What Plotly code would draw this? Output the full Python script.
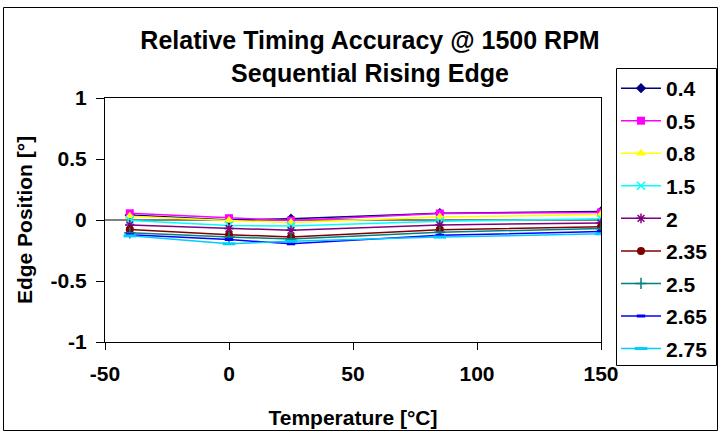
import plotly.graph_objects as go

temps = [-40, 0, 25, 85, 150]
series_names = ["0.4", "0.5", "0.8", "1.5", "2", "2.35", "2.5", "2.65", "2.75"]
v_04 = [0.04, 0.0, 0.01, 0.055, 0.07]
v_05 = [0.055, 0.015, -0.005, 0.053, 0.062]
v_08 = [0.03, -0.005, -0.02, 0.025, 0.045]
v_15 = [-0.005, -0.045, -0.05, -0.01, 0.01]
v_2 = [-0.04, -0.07, -0.085, -0.04, -0.025]
v_235 = [-0.078, -0.12, -0.14, -0.08, -0.055]
v_25 = [-0.105, -0.14, -0.155, -0.1, -0.07]
v_265 = [-0.12, -0.16, -0.195, -0.125, -0.095]
v_275 = [-0.13, -0.195, -0.175, -0.14, -0.113]
values = [v_04, v_05, v_08, v_15, v_2, v_235, v_25, v_265, v_275]

x_ticks = [-50, 0, 50, 100, 150]
y_ticks = [-1, -0.5, 0, 0.5, 1]
y_tick_text = ["-1", "-0.5", "0", "0.5", "1"]

colors = ["#000080", "#FF00FF", "#FFFF00", "#00FFFF", "#800080",
          "#800000", "#008080", "#0000FF", "#00CCFF"]
symbols = ["diamond", "square", "triangle-up", "x-thin", "asterisk",
           "circle", "cross-thin", "line-ew", "line-ew"]
sizes = [8, 8, 9, 8, 8, 8, 8, 6, 9]

FONT = "Liberation Sans, Arial, sans-serif"
W, H = 719, 432
L, R, T, B = 105, 118, 98, 90
pw, ph = W - L - R, H - T - B


def px_x(p):
    return (p - L) / pw


def px_y(p):
    return (H - B - p) / ph


fig = go.Figure()
for i, name in enumerate(series_names):
    sym = symbols[i]
    open_line = sym in ("x-thin", "asterisk", "cross-thin", "line-ew")
    marker = dict(symbol=sym, size=sizes[i], color=colors[i],
                  line=dict(color=colors[i], width=(3 if sym == "line-ew" else 1.5) if open_line else 0))
    fig.add_trace(go.Scatter(
        x=temps, y=values[i], name=f"<b>{name}</b>", mode="lines+markers",
        line=dict(color=colors[i], width=1.5), marker=marker,
        legendgroup=name,
    ))

fig.update_layout(
    width=W, height=H,
    margin=dict(l=L, r=R, t=T, b=B, pad=0, autoexpand=False),
    paper_bgcolor="white", plot_bgcolor="white",
    font=dict(family=FONT, size=21, color="black"),
    title=dict(text="<b>Relative Timing Accuracy @ 1500 RPM<br>Sequential Rising Edge</b>",
               x=370 / W, xanchor="center", y=1 - 49 / H, yanchor="top", automargin=False,
               font=dict(size=25, family=FONT)),
    xaxis=dict(range=[-50, 150], tickvals=x_ticks, ticktext=[f"<b>{v}</b>" for v in x_ticks],
               ticks="outside", ticklen=7, tickcolor="black", showgrid=False, zeroline=False,
               showline=True, linecolor="black", linewidth=1, mirror=True, automargin=False,
               ticklabelstandoff=6,
               title=dict(text="<b>Temperature [°C]</b>", standoff=26, font=dict(size=21))),
    yaxis=dict(range=[-1, 1], tickvals=y_ticks, ticktext=[f"<b>{t}</b>" for t in y_tick_text],
               ticks="outside", ticklen=8, tickcolor="black", showgrid=False,
               zeroline=True, zerolinecolor="#808080", zerolinewidth=1.5,
               showline=True, linecolor="black", linewidth=1, mirror=True, automargin=False,
               ticklabelstandoff=5,
               title=dict(text="<b>Edge Position [°]</b>", standoff=12, font=dict(size=21))),
    legend=dict(x=px_x(616), xanchor="left", y=px_y(68), yanchor="top",
                borderwidth=0, bgcolor="rgba(0,0,0,0)",
                font=dict(size=21, family=FONT), tracegroupgap=2.25,
                traceorder="grouped", itemwidth=40, maxheight=1.0),
    shapes=[
        dict(type="rect", xref="paper", yref="paper",
             x0=px_x(3.5), x1=px_x(717.5), y0=px_y(430.5), y1=px_y(7.5),
             line=dict(color="black", width=1), fillcolor="rgba(0,0,0,0)", layer="below"),
        dict(type="rect", xref="paper", yref="paper",
             x0=px_x(616.5), x1=px_x(716.5), y0=px_y(365.5), y1=px_y(68.5),
             line=dict(color="black", width=1), fillcolor="white", layer="below"),
    ],
    showlegend=True,
)
fig.write_html("out.html", config={"displayModeBar": False},
               post_script="document.body.style.margin='0';document.body.style.overflow='hidden';")
